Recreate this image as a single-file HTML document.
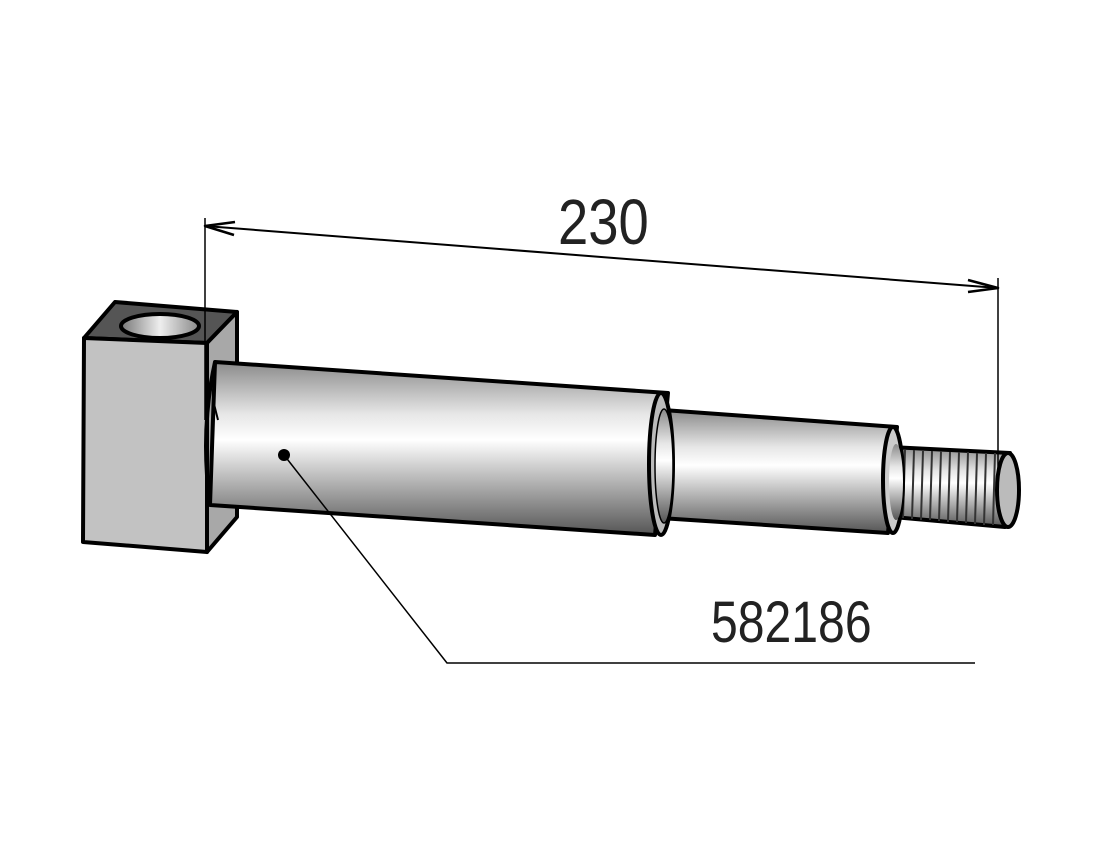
<!DOCTYPE html>
<html><head><style>html,body{margin:0;padding:0;background:#fff}svg{display:block}</style></head><body>
<svg width="1096" height="861" viewBox="0 0 1096 861" xmlns="http://www.w3.org/2000/svg">
<defs>
<linearGradient id="cyl" x1="0" y1="0" x2="0" y2="1">
<stop offset="0" stop-color="#8a8a8a"/><stop offset="0.3" stop-color="#e6e6e6"/><stop offset="0.45" stop-color="#ffffff"/><stop offset="0.6" stop-color="#d0d0d0"/><stop offset="1" stop-color="#555"/>
</linearGradient>
<linearGradient id="hole" x1="0" y1="0" x2="1" y2="0">
<stop offset="0" stop-color="#777"/><stop offset="0.5" stop-color="#eee"/><stop offset="1" stop-color="#888"/>
</linearGradient>
</defs>
<g stroke="#000" stroke-linejoin="round">
<polygon points="84,338 115,302 237,312 207,343" fill="#555" stroke-width="4"/>
<ellipse cx="160" cy="326" rx="39" ry="12" fill="url(#hole)" stroke-width="4"/>
<polygon points="207,343 237,312 237,517 207,552" fill="#a8a8a8" stroke-width="4"/>
<polygon points="84,338 207,343 207,552 83,542" fill="#c2c2c2" stroke-width="4"/>
<polygon points="890,447 1010,453 1005,527 893,517" fill="url(#cyl)" stroke-width="4"/>
<g stroke="#333" stroke-width="2">
<line x1="905" y1="450" x2="903" y2="518"/><line x1="914" y1="450" x2="912" y2="519"/><line x1="923" y1="451" x2="921" y2="520"/><line x1="932" y1="451" x2="930" y2="520"/><line x1="941" y1="451" x2="939" y2="521"/><line x1="950" y1="452" x2="948" y2="522"/><line x1="959" y1="452" x2="957" y2="522"/><line x1="968" y1="452" x2="966" y2="523"/><line x1="977" y1="453" x2="975" y2="524"/><line x1="986" y1="453" x2="984" y2="525"/><line x1="995" y1="453" x2="993" y2="525"/>
</g>
<ellipse cx="1008" cy="490" rx="11" ry="37" fill="#bbb" stroke-width="4"/>
<polygon points="663,410 897,427 888,533 660,518" fill="url(#cyl)" stroke-width="4"/>
<ellipse cx="893" cy="480" rx="10" ry="53" fill="#ccc" stroke-width="4"/>
<ellipse cx="896" cy="482" rx="7" ry="38" fill="url(#cyl)" stroke="none"/>
<polygon points="215,362 668,393 655,535 210,505" fill="url(#cyl)" stroke-width="4"/>
<path d="M215,362 Q200,430 210,505" fill="none" stroke-width="4"/>
<line x1="213" y1="400" x2="218" y2="420" stroke-width="2"/>
<ellipse cx="661" cy="464" rx="12" ry="71" fill="#bbb" stroke-width="4"/>
<ellipse cx="664" cy="466" rx="9" ry="57" fill="url(#cyl)" stroke-width="1.5"/>
<line x1="205" y1="218" x2="205" y2="420" stroke-width="1.5"/>
<line x1="998" y1="278" x2="998" y2="470" stroke-width="1.5"/>
<line x1="205" y1="226" x2="998" y2="288" stroke-width="2"/>
<path d="M235,222 L205,226 L234,235" fill="none" stroke-width="2.5"/>
<path d="M968,280 L998,288 L968,292" fill="none" stroke-width="2.5"/>
<circle cx="284" cy="455" r="6" fill="#000" stroke="none"/>
<polyline points="284,455 447,663 975,663" fill="none" stroke-width="1.5"/>
</g>
<text x="0" y="0" transform="translate(558,244) scale(0.85,1)" font-family="Liberation Sans, sans-serif" font-size="64" fill="#222">230</text>
<text x="0" y="0" transform="translate(711,642) scale(0.83,1)" font-family="Liberation Sans, sans-serif" font-size="58" fill="#222">582186</text>
</svg>
</body></html>
